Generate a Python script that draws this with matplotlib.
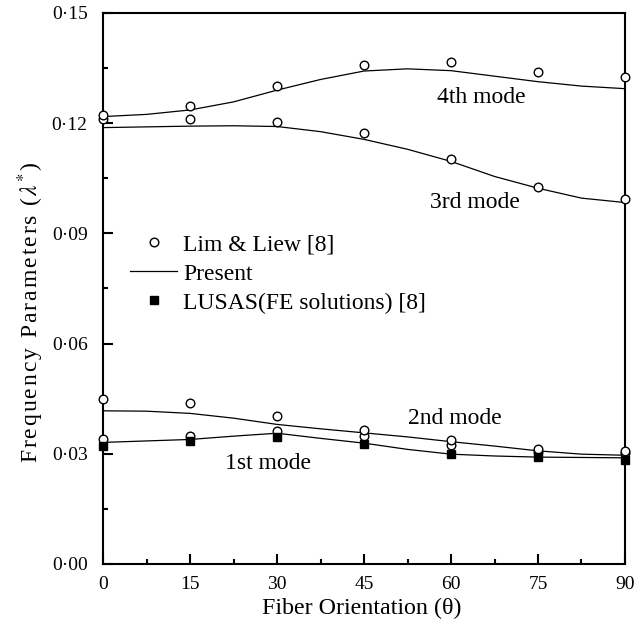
import numpy as np
import matplotlib
matplotlib.use("Agg")
import matplotlib.pyplot as plt
from matplotlib.lines import Line2D

plt.rcParams["font.family"] = ["Liberation Serif", "DejaVu Serif"]
plt.rcParams["mathtext.fontset"] = "stix"

# fibre angles of the tabulated points
theta = [0, 15, 30, 45, 60, 75, 90]
# fibre angles of the read-off "Present" curves
theta_fine = [0, 7.5, 15, 22.5, 30, 37.5, 45, 52.5, 60, 67.5, 75, 82.5, 90]

# Lim & Liew [8]
lim_1 = [0.0339, 0.0348, 0.0363, 0.0349, 0.0323, 0.0305, 0.0302]
lim_2 = [0.0449, 0.0437, 0.0404, 0.0365, 0.0338, 0.0313, 0.0308]
lim_3 = [0.1211, 0.1211, 0.1202, 0.1172, 0.1102, 0.1027, 0.0994]
lim_4 = [0.1222, 0.1248, 0.1302, 0.1358, 0.1367, 0.1340, 0.1327]

# LUSAS (FE solutions) [8], 1st mode
lusas_1 = [0.0321, 0.0336, 0.0345, 0.0327, 0.0299, 0.0290, 0.0283]

# Present
present_1 = [0.0331, 0.0335, 0.0339, 0.0348, 0.0356, 0.0342, 0.0329,
             0.0312, 0.0299, 0.0294, 0.0291, 0.0290, 0.0289]
present_2 = [0.0417, 0.0416, 0.0410, 0.0397, 0.0380, 0.0368, 0.0357,
             0.0346, 0.0333, 0.0321, 0.0308, 0.0299, 0.0296]
present_3 = [0.1188, 0.1190, 0.1192, 0.1193, 0.1191, 0.1177, 0.1156,
             0.1129, 0.1096, 0.1055, 0.1023, 0.0996, 0.0984]
present_4 = [0.1218, 0.1224, 0.1236, 0.1258, 0.1290, 0.1319, 0.1342,
             0.1348, 0.1343, 0.1328, 0.1313, 0.1301, 0.1294]

y_ticks = [0.00, 0.03, 0.06, 0.09, 0.12, 0.15]
y_tick_labels = ["0·00", "0·03", "0·06", "0·09", "0·12", "0·15"]
x_ticks = [0, 15, 30, 45, 60, 75, 90]

mode_names = ["1st mode", "2nd mode", "3rd mode", "4th mode"]
mode_label_x = [28.4, 60.7, 64.1, 65.3]
mode_label_y = [0.0274, 0.0395, 0.0985, 0.1270]

fig = plt.figure(figsize=(6.34, 6.31), dpi=100)
ax = fig.add_axes([0.1625, 0.1062, 0.8233, 0.8732])

for curve in [present_1, present_2, present_3, present_4]:
    ax.plot(theta_fine, curve, color="black", lw=0.9, zorder=2)

for pts in [lim_1, lim_2, lim_3, lim_4]:
    ax.plot(theta, pts, ls="none", marker="o", ms=6.2, mfc="white",
            mec="black", mew=1.0, zorder=3, clip_on=False)

ax.plot(theta, lusas_1, ls="none", marker="s", ms=6.2, mfc="black",
        mec="black", zorder=4, clip_on=False)

for name, tx, ty in zip(mode_names, mode_label_x, mode_label_y):
    ax.text(tx, ty, name, fontsize=17, ha="center", va="center")

ax.set_xlim(0, 90)
ax.set_ylim(0, 0.15)
ax.set_xticks(x_ticks)
ax.set_xticks(np.arange(7.5, 90, 15), minor=True)
ax.set_yticks(y_ticks)
ax.set_yticklabels(y_tick_labels)
ax.set_yticks(np.arange(0.015, 0.15, 0.03), minor=True)

ax.tick_params(which="both", direction="in", top=False, right=False,
               labelsize=14, width=1.5)
ax.tick_params(which="major", length=7)
ax.tick_params(which="minor", length=3.5)
ax.tick_params(axis="y", which="major", pad=11)
ax.tick_params(axis="x", which="major", pad=9)
for s in ax.spines.values():
    s.set_linewidth(1.5)

ax.set_xlabel("Fiber Orientation (θ)", fontsize=17.3, labelpad=4)
ax.xaxis.set_label_coords(0.495, -0.062)

# the original label is slightly letter-spaced
hair = "\u200a"
ylab = hair.join("Frequency Parameters (") + hair + "$\\lambda^{*}$" + hair + ")"
ax.set_ylabel(ylab, fontsize=17)
ax.yaxis.set_label_coords(-0.109, 0.457)

handles = [
    Line2D([], [], ls="none", marker="o", ms=6.2, mfc="white", mec="black"),
    Line2D([], [], color="black", lw=0.9),
    Line2D([], [], ls="none", marker="s", ms=6.2, mfc="black", mec="black"),
]
labels = ["Lim & Liew [8]", "Present", "LUSAS(FE solutions) [8]"]
ax.legend(handles, labels, loc="upper left", bbox_to_anchor=(0.052, 0.599),
          frameon=False, fontsize=17, handlelength=2.0, handletextpad=0.25,
          labelspacing=0.32, borderpad=0, borderaxespad=0, numpoints=1)

fig.savefig("out.png", dpi=100)
